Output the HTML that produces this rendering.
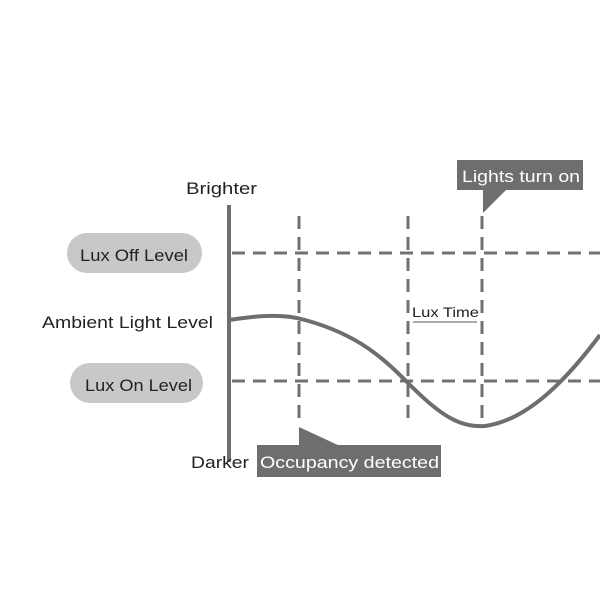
<!DOCTYPE html>
<html><head><style>body{margin:0;background:#fff}svg{display:block}text{font-family:"Liberation Sans",sans-serif}</style></head><body>
<svg width="600" height="600" viewBox="0 0 600 600">
<g stroke="#717171" stroke-width="3" stroke-dasharray="13 8" fill="none">
<line x1="232" y1="253" x2="600" y2="253"/>
<line x1="232" y1="381" x2="600" y2="381"/>
<line x1="299" y1="216" x2="299" y2="418"/>
<line x1="408" y1="216" x2="408" y2="418"/>
<line x1="482" y1="216" x2="482" y2="418"/>
</g>
<line x1="229" y1="205" x2="229" y2="462" stroke="#6d6e70" stroke-width="4"/>
<path d="M229,320 C260,315 285,314 305,320 C360,335 385,360 410,385 C440,415 460,428 485,426 C530,420 570,375 600,335" stroke="#6d6e70" stroke-width="4" fill="none"/>
<rect x="67" y="233" width="135" height="40" rx="20" fill="#c8c8c8"/>
<text x="80" y="261" font-size="17" textLength="108" lengthAdjust="spacingAndGlyphs" fill="#222">Lux Off Level</text>
<rect x="70" y="363" width="133" height="40" rx="20" fill="#c8c8c8"/>
<text x="85" y="391" font-size="17" textLength="107" lengthAdjust="spacingAndGlyphs" fill="#222">Lux On Level</text>
<text x="186" y="194" font-size="17" textLength="71" lengthAdjust="spacingAndGlyphs" fill="#222">Brighter</text>
<text x="42" y="328" font-size="17" textLength="171" lengthAdjust="spacingAndGlyphs" fill="#222">Ambient Light Level</text>
<text x="191" y="468" font-size="17" textLength="58" lengthAdjust="spacingAndGlyphs" fill="#222">Darker</text>
<text x="412" y="317" font-size="14" textLength="67" lengthAdjust="spacingAndGlyphs" fill="#222">Lux Time</text>
<line x1="413" y1="322" x2="477" y2="322" stroke="#555" stroke-width="1"/>
<rect x="457" y="160" width="126" height="30" fill="#6d6e70"/>
<polygon points="483,189 507,189 483,213" fill="#6d6e70"/>
<text x="462" y="182" font-size="17" textLength="118" lengthAdjust="spacingAndGlyphs" fill="#fff">Lights turn on</text>
<rect x="257" y="445" width="184" height="32" fill="#6d6e70"/>
<polygon points="299,427 299,446 340,446" fill="#6d6e70"/>
<text x="260" y="468" font-size="17" textLength="179" lengthAdjust="spacingAndGlyphs" fill="#fff">Occupancy detected</text>
</svg>
</body></html>
